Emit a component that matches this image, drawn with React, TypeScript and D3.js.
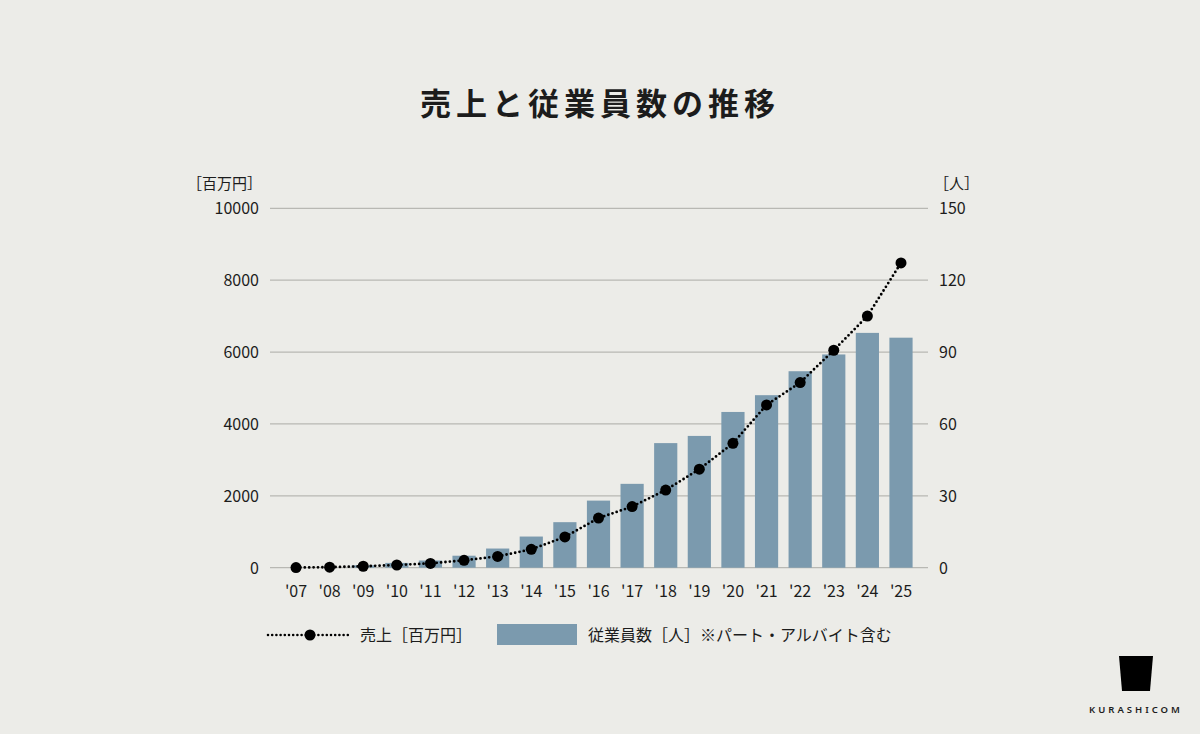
import React from "react";
import * as d3 from "d3";

const years = ["'07","'08","'09","'10","'11","'12","'13","'14","'15","'16","'17","'18","'19","'20","'21","'22","'23","'24","'25"];
const sales = [5, 15, 40, 75, 120, 205, 315, 510, 855, 1380, 1700, 2160, 2740, 3460, 4530, 5150, 6050, 7000, 8480];
const employees = [0, 0, 1, 2, 3, 5, 8, 13, 19, 28, 35, 52, 55, 65, 72, 82, 89, 98, 96];
const leftTicks = [0, 2000, 4000, 6000, 8000, 10000];
const rightTicks = [0, 30, 60, 90, 120, 150];

const W = 1200;
const H = 734;
const BG = "#ecece8";
const BAR = "#7b9aae";
const GRID = "#b8b8b3";
const TXT = "#1c1c1c";
const FONT = "'Noto Sans CJK JP', 'Noto Sans', sans-serif";

export default function App() {
  const x = d3.scaleBand<string>().domain(years).range([279.2, 917.8]).paddingInner(0.31).paddingOuter(0.155);
  const yL = d3.scaleLinear().domain([0, 10000]).range([567.7, 208.3]);
  const yR = d3.scaleLinear().domain([0, 150]).range([567.7, 208.3]);
  const cx = (d: string) => (x(d) ?? 0) + x.bandwidth() / 2;
  const line = d3.line<number>().x((_, i) => cx(years[i])).y((d) => yL(d));
  const gridX0 = 270;
  const gridX1 = 928;

  return (
    <svg width={W} height={H} style={{ position: "fixed", left: 0, top: 0 }} fontFamily={FONT}>
      <rect x={0} y={0} width={W} height={H} fill={BG} />
      <text x={600} y={115} textAnchor="middle" fontSize={31} fontWeight={700} letterSpacing={5} fill={TXT}>
        売上と従業員数の推移
      </text>

      {leftTicks.map((t) => (
        <line key={t} x1={gridX0} x2={gridX1} y1={yL(t)} y2={yL(t)} stroke={GRID} strokeWidth={1.3} />
      ))}

      <text x={262} y={189} textAnchor="end" fontSize={15} fill={TXT}>［百万円］</text>
      {leftTicks.map((t) => (
        <text key={t} x={259} y={yL(t) + 5.8} textAnchor="end" fontSize={16} fill={TXT}>{t}</text>
      ))}

      <text x={934} y={189} textAnchor="start" fontSize={15} fill={TXT}>［人］</text>
      {rightTicks.map((t) => (
        <text key={t} x={939} y={yR(t) + 5.8} textAnchor="start" fontSize={16} fill={TXT}>{t}</text>
      ))}

      {employees.map((v, i) => (
        <rect key={i} x={x(years[i])} y={yR(v)} width={x.bandwidth()} height={yR(0) - yR(v)} fill={BAR} />
      ))}

      {years.map((y) => (
        <text key={y} x={cx(y)} y={597} textAnchor="middle" fontSize={16} fill={TXT}>{y}</text>
      ))}

      <path d={line(sales) ?? ""} fill="none" stroke="#000" strokeWidth={2.8} strokeDasharray="0 4.4" strokeLinecap="round" />
      {sales.map((v, i) => (
        <circle key={i} cx={cx(years[i])} cy={yL(v)} r={5.5} fill="#000" />
      ))}

      <line x1={268} x2={350} y1={635} y2={635} stroke="#000" strokeWidth={2.6} strokeDasharray="0 4.2" strokeLinecap="round" />
      <circle cx={310} cy={635} r={5.5} fill="#000" />
      <text x={360} y={641} fontSize={16} fill={TXT}>売上［百万円］</text>
      <rect x={497} y={624} width={80} height={21} fill={BAR} />
      <text x={588} y={641} fontSize={16} fill={TXT}>従業員数［人］※パート・アルバイト含む</text>

      <path d="M1119,656 L1153,656 L1150,691 L1122,691 Z" fill="#000" />
      <text x={1136} y={713} textAnchor="middle" fontSize={9.5} letterSpacing={3} fontWeight={600} fill={TXT} fontFamily="'Noto Sans', sans-serif">KURASHICOM</text>
    </svg>
  );
}
